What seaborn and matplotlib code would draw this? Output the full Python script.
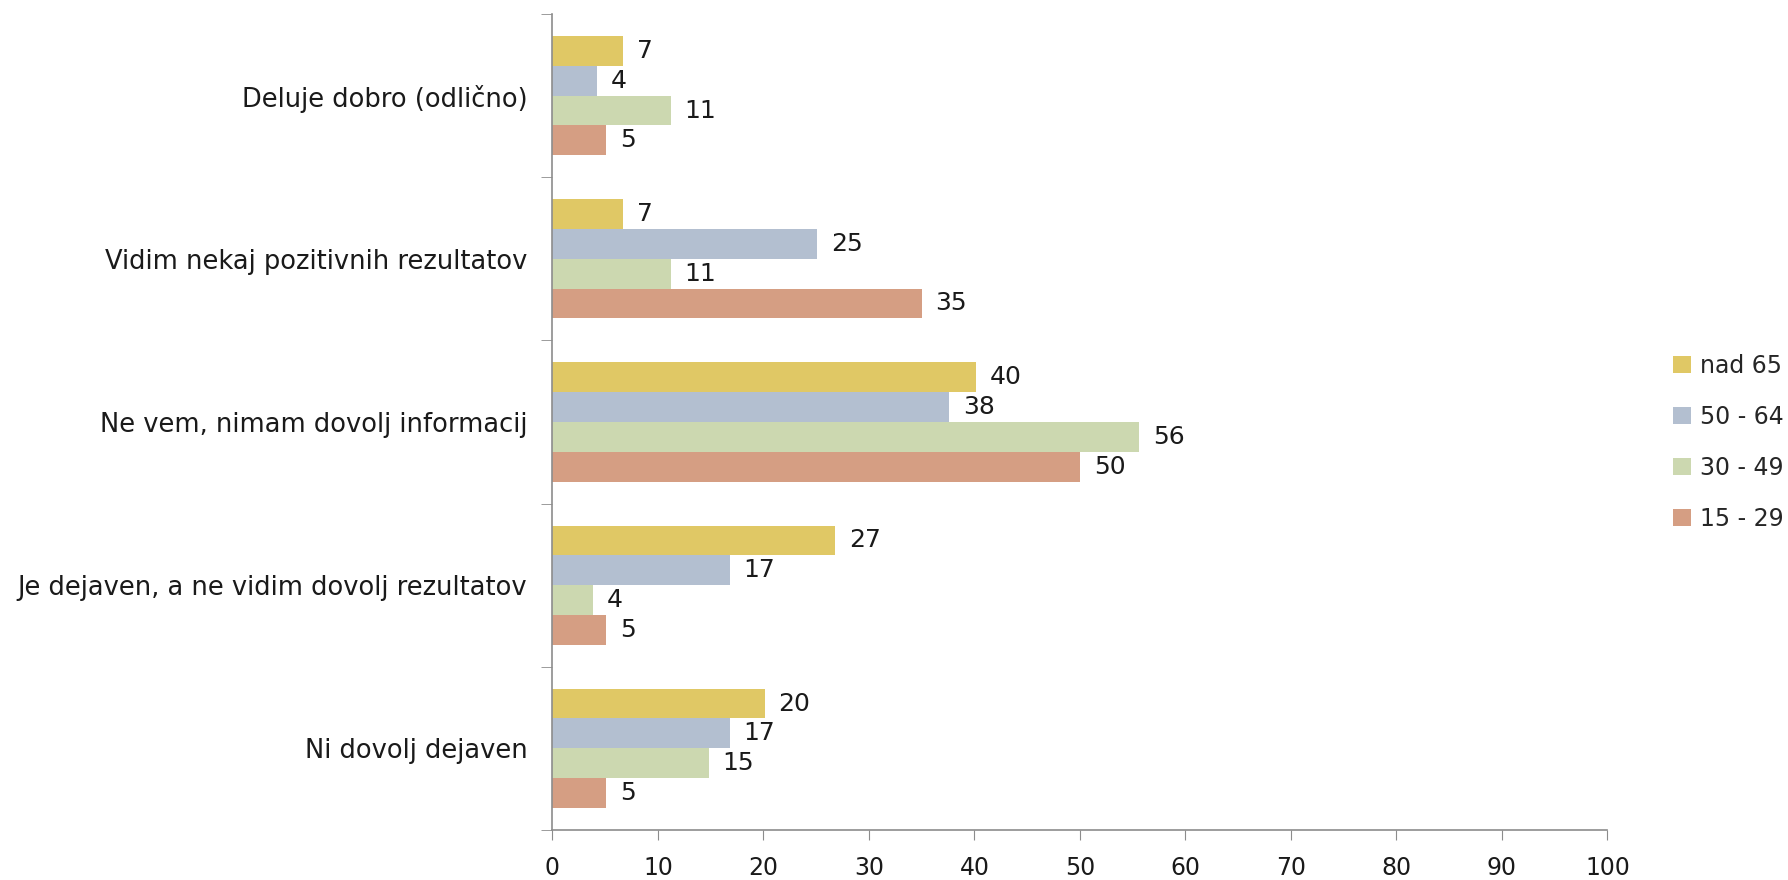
import numpy as np
import pandas as pd
import matplotlib
matplotlib.use("Agg")
import matplotlib.pyplot as plt
import seaborn as sns

categories = [
    "Deluje dobro (odlično)",
    "Vidim nekaj pozitivnih rezultatov",
    "Ne vem, nimam dovolj informacij",
    "Je dejaven, a ne vidim dovolj rezultatov",
    "Ni dovolj dejaven",
]
groups = ["nad 65", "50 - 64", "30 - 49", "15 - 29"]
nad_65 = [6.7, 6.7, 40.1, 26.8, 20.1]
age_50_64 = [4.2, 25.1, 37.6, 16.8, 16.8]
age_30_49 = [11.2, 11.2, 55.6, 3.8, 14.8]
age_15_29 = [5.1, 35.0, 50.0, 5.1, 5.1]
colors = ["#E0C865", "#B3BFD0", "#CCD8B0", "#D59E83"]
xticks = list(range(0, 101, 10))

df = pd.DataFrame({
    "kategorija": categories * 4,
    "skupina": [g for g in groups for _ in categories],
    "vrednost": nad_65 + age_50_64 + age_30_49 + age_15_29,
})

sns.set_style("white")
plt.rcParams["font.family"] = ["DejaVu Sans"]

fig = plt.figure(figsize=(17.88, 8.8), dpi=100)
ax = fig.add_axes([0.309, 0.057, 0.590, 0.927])

sns.barplot(data=df, y="kategorija", x="vrednost", hue="skupina",
            order=categories, hue_order=groups, palette=colors,
            orient="h", width=0.73, errorbar=None, saturation=1,
            edgecolor="none", ax=ax)

for cont in ax.containers:
    ax.bar_label(cont, labels=[f"{v:.0f}" for v in cont.datavalues],
                 padding=10, fontsize=18, color="#1a1a1a")

ax.set_xlim(0, 100)
ax.set_ylim(len(categories) - 0.5, -0.5)
ax.set_xticks(xticks)
ax.set_xlabel("")
ax.set_ylabel("")
ax.tick_params(axis="x", labelsize=17, length=7, color="#8c8c8c",
               direction="out", bottom=True, pad=12, labelcolor="#1a1a1a")
ax.tick_params(axis="y", labelsize=18.5, length=0, pad=18, labelcolor="#1a1a1a")
ax.set_yticks(np.arange(-0.5, len(categories), 1), minor=True)
ax.tick_params(axis="y", which="minor", length=8, color="#8c8c8c",
               direction="out", left=True)

for side in ["top", "right"]:
    ax.spines[side].set_visible(False)
for side in ["left", "bottom"]:
    ax.spines[side].set_color("#8c8c8c")
    ax.spines[side].set_linewidth(1.2)

leg = ax.legend(loc="center left", bbox_to_anchor=(1.062, 0.475), frameon=False,
                fontsize=17, handlelength=0.75, handleheight=0.75,
                handletextpad=0.4, labelspacing=1.15,
                borderaxespad=0, borderpad=0)

fig.savefig("out.png", dpi=100)
